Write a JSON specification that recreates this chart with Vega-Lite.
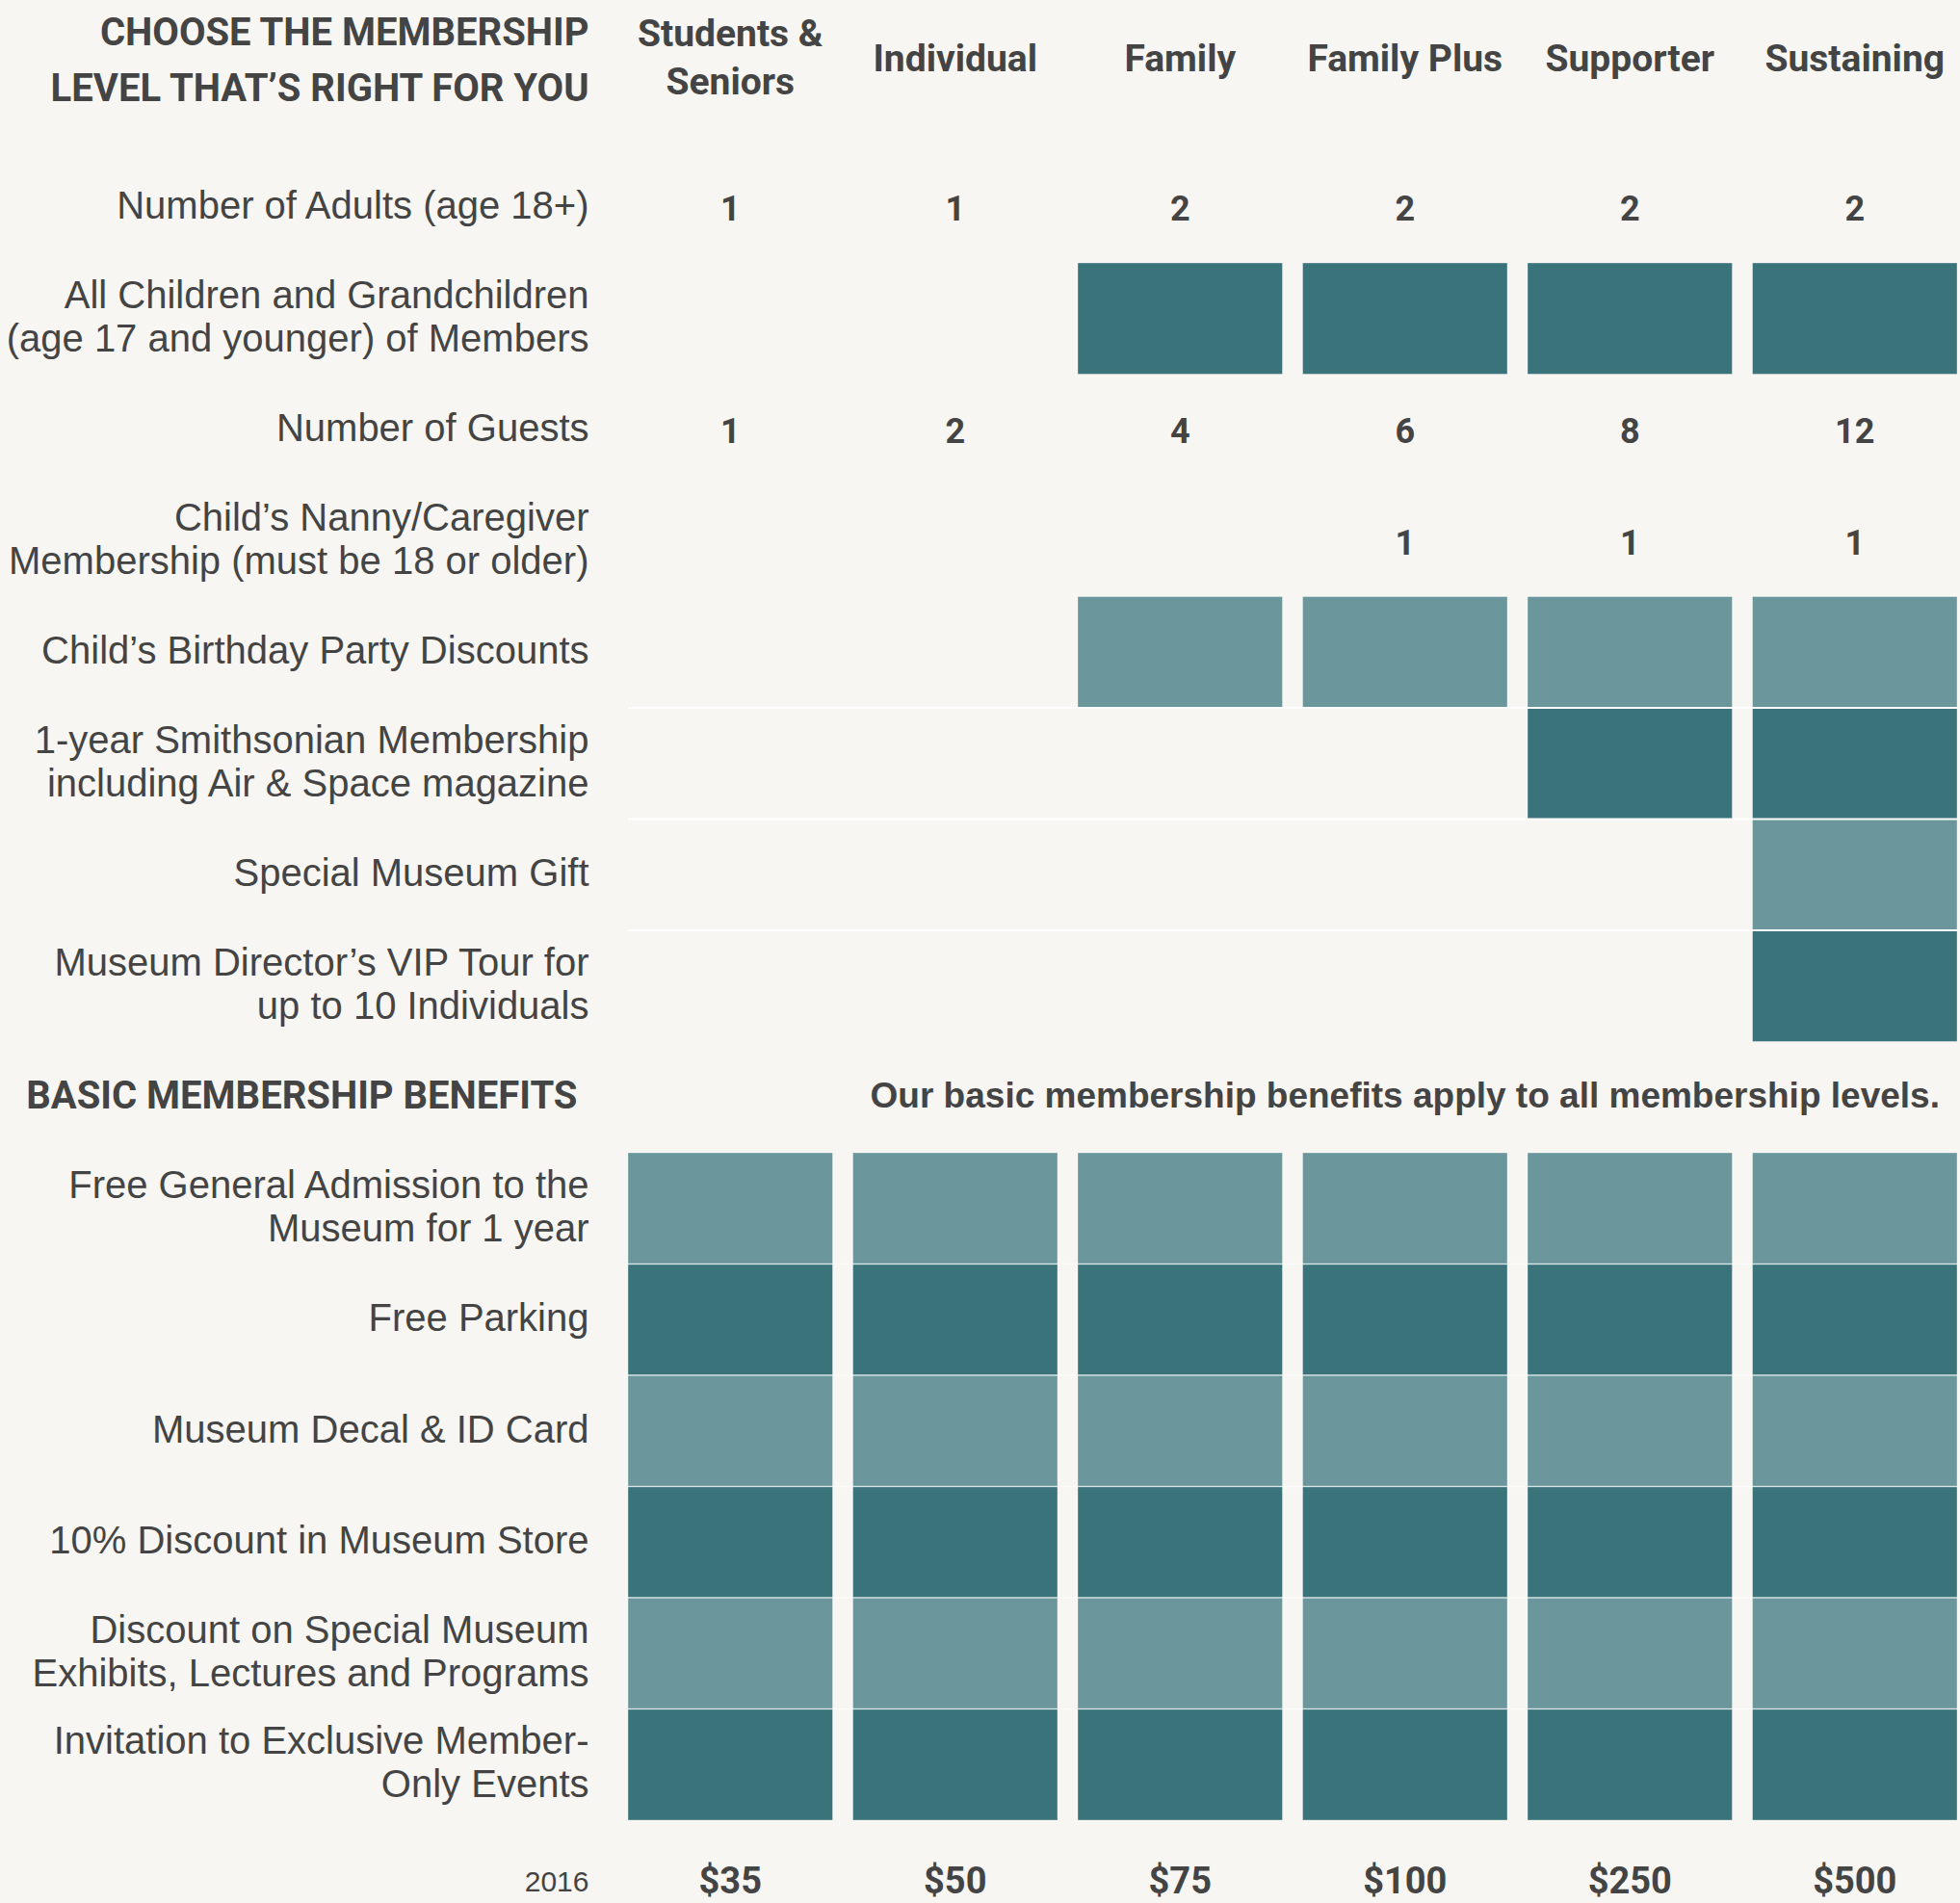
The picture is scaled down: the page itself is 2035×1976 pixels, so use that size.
{
  "$schema": "https://vega.github.io/schema/vega-lite/v6.json",
  "width": 1380,
  "height": 1848,
  "autosize": "none",
  "padding": {"left": 652, "top": 42, "right": 3, "bottom": 86},
  "background": "#f7f6f2",
  "config": {"view": {"stroke": null}},
  "datasets": {
    "cells": [
      {"feature": "All Children and Grandchildren|(age 17 and younger) of Members", "price": "$75", "shade": "dark"},
      {"feature": "All Children and Grandchildren|(age 17 and younger) of Members", "price": "$100", "shade": "dark"},
      {"feature": "All Children and Grandchildren|(age 17 and younger) of Members", "price": "$250", "shade": "dark"},
      {"feature": "All Children and Grandchildren|(age 17 and younger) of Members", "price": "$500", "shade": "dark"},
      {"feature": "Child’s Birthday Party Discounts", "price": "$75", "shade": "light"},
      {"feature": "Child’s Birthday Party Discounts", "price": "$100", "shade": "light"},
      {"feature": "Child’s Birthday Party Discounts", "price": "$250", "shade": "light"},
      {"feature": "Child’s Birthday Party Discounts", "price": "$500", "shade": "light"},
      {"feature": "1-year Smithsonian Membership|including Air & Space magazine", "price": "$250", "shade": "dark"},
      {"feature": "1-year Smithsonian Membership|including Air & Space magazine", "price": "$500", "shade": "dark"},
      {"feature": "Special Museum Gift", "price": "$500", "shade": "light"},
      {"feature": "Museum Director’s VIP Tour for|up to 10 Individuals", "price": "$500", "shade": "dark"},
      {"feature": "Free General Admission to the|Museum for 1 year", "price": "$35", "shade": "light"},
      {"feature": "Free General Admission to the|Museum for 1 year", "price": "$50", "shade": "light"},
      {"feature": "Free General Admission to the|Museum for 1 year", "price": "$75", "shade": "light"},
      {"feature": "Free General Admission to the|Museum for 1 year", "price": "$100", "shade": "light"},
      {"feature": "Free General Admission to the|Museum for 1 year", "price": "$250", "shade": "light"},
      {"feature": "Free General Admission to the|Museum for 1 year", "price": "$500", "shade": "light"},
      {"feature": "Free Parking", "price": "$35", "shade": "dark"},
      {"feature": "Free Parking", "price": "$50", "shade": "dark"},
      {"feature": "Free Parking", "price": "$75", "shade": "dark"},
      {"feature": "Free Parking", "price": "$100", "shade": "dark"},
      {"feature": "Free Parking", "price": "$250", "shade": "dark"},
      {"feature": "Free Parking", "price": "$500", "shade": "dark"},
      {"feature": "Museum Decal & ID Card", "price": "$35", "shade": "light"},
      {"feature": "Museum Decal & ID Card", "price": "$50", "shade": "light"},
      {"feature": "Museum Decal & ID Card", "price": "$75", "shade": "light"},
      {"feature": "Museum Decal & ID Card", "price": "$100", "shade": "light"},
      {"feature": "Museum Decal & ID Card", "price": "$250", "shade": "light"},
      {"feature": "Museum Decal & ID Card", "price": "$500", "shade": "light"},
      {"feature": "10% Discount in Museum Store", "price": "$35", "shade": "dark"},
      {"feature": "10% Discount in Museum Store", "price": "$50", "shade": "dark"},
      {"feature": "10% Discount in Museum Store", "price": "$75", "shade": "dark"},
      {"feature": "10% Discount in Museum Store", "price": "$100", "shade": "dark"},
      {"feature": "10% Discount in Museum Store", "price": "$250", "shade": "dark"},
      {"feature": "10% Discount in Museum Store", "price": "$500", "shade": "dark"},
      {"feature": "Discount on Special Museum|Exhibits, Lectures and Programs", "price": "$35", "shade": "light"},
      {"feature": "Discount on Special Museum|Exhibits, Lectures and Programs", "price": "$50", "shade": "light"},
      {"feature": "Discount on Special Museum|Exhibits, Lectures and Programs", "price": "$75", "shade": "light"},
      {"feature": "Discount on Special Museum|Exhibits, Lectures and Programs", "price": "$100", "shade": "light"},
      {"feature": "Discount on Special Museum|Exhibits, Lectures and Programs", "price": "$250", "shade": "light"},
      {"feature": "Discount on Special Museum|Exhibits, Lectures and Programs", "price": "$500", "shade": "light"},
      {"feature": "Invitation to Exclusive Member-|Only Events", "price": "$35", "shade": "dark"},
      {"feature": "Invitation to Exclusive Member-|Only Events", "price": "$50", "shade": "dark"},
      {"feature": "Invitation to Exclusive Member-|Only Events", "price": "$75", "shade": "dark"},
      {"feature": "Invitation to Exclusive Member-|Only Events", "price": "$100", "shade": "dark"},
      {"feature": "Invitation to Exclusive Member-|Only Events", "price": "$250", "shade": "dark"},
      {"feature": "Invitation to Exclusive Member-|Only Events", "price": "$500", "shade": "dark"}
    ],
    "numbers": [
      {"feature": "Number of Adults (age 18+)", "price": "$35", "value": "1"},
      {"feature": "Number of Adults (age 18+)", "price": "$50", "value": "1"},
      {"feature": "Number of Adults (age 18+)", "price": "$75", "value": "2"},
      {"feature": "Number of Adults (age 18+)", "price": "$100", "value": "2"},
      {"feature": "Number of Adults (age 18+)", "price": "$250", "value": "2"},
      {"feature": "Number of Adults (age 18+)", "price": "$500", "value": "2"},
      {"feature": "Number of Guests", "price": "$35", "value": "1"},
      {"feature": "Number of Guests", "price": "$50", "value": "2"},
      {"feature": "Number of Guests", "price": "$75", "value": "4"},
      {"feature": "Number of Guests", "price": "$100", "value": "6"},
      {"feature": "Number of Guests", "price": "$250", "value": "8"},
      {"feature": "Number of Guests", "price": "$500", "value": "12"},
      {"feature": "Child’s Nanny/Caregiver|Membership (must be 18 or older)", "price": "$100", "value": "1"},
      {"feature": "Child’s Nanny/Caregiver|Membership (must be 18 or older)", "price": "$250", "value": "1"},
      {"feature": "Child’s Nanny/Caregiver|Membership (must be 18 or older)", "price": "$500", "value": "1"}
    ],
    "levels": [
      {"feature": "hdr", "price": "$35", "level": "Students &|Seniors"},
      {"feature": "hdr", "price": "$50", "level": "Individual"},
      {"feature": "hdr", "price": "$75", "level": "Family"},
      {"feature": "hdr", "price": "$100", "level": "Family Plus"},
      {"feature": "hdr", "price": "$250", "level": "Supporter"},
      {"feature": "hdr", "price": "$500", "level": "Sustaining"}
    ],
    "note": [
      {"feature": "BASIC MEMBERSHIP BENEFITS", "price": "$100", "note": "Our basic membership benefits apply to all membership levels."}
    ],
    "linesTop": [
      {"feature": "1-year Smithsonian Membership|including Air & Space magazine"},
      {"feature": "Special Museum Gift"},
      {"feature": "Museum Director’s VIP Tour for|up to 10 Individuals"}
    ],
    "linesBasic": [
      {"feature": "Free Parking"},
      {"feature": "Museum Decal & ID Card"},
      {"feature": "10% Discount in Museum Store"},
      {"feature": "Discount on Special Museum|Exhibits, Lectures and Programs"},
      {"feature": "Invitation to Exclusive Member-|Only Events"}
    ]
  },
  "layer": [
    {
      "data": {"name": "cells"},
      "mark": {"type": "rect", "stroke": "#ffffff", "strokeOpacity": 0.35, "strokeWidth": 1},
      "encoding": {
        "y": {
          "field": "feature",
          "type": "nominal",
          "scale": {
            "domain": [
              "hdr",
              "Number of Adults (age 18+)",
              "All Children and Grandchildren|(age 17 and younger) of Members",
              "Number of Guests",
              "Child’s Nanny/Caregiver|Membership (must be 18 or older)",
              "Child’s Birthday Party Discounts",
              "1-year Smithsonian Membership|including Air & Space magazine",
              "Special Museum Gift",
              "Museum Director’s VIP Tour for|up to 10 Individuals",
              "BASIC MEMBERSHIP BENEFITS",
              "Free General Admission to the|Museum for 1 year",
              "Free Parking",
              "Museum Decal & ID Card",
              "10% Discount in Museum Store",
              "Discount on Special Museum|Exhibits, Lectures and Programs",
              "Invitation to Exclusive Member-|Only Events"
            ],
            "paddingInner": 0,
            "paddingOuter": 0
          },
          "axis": {
            "orient": "left",
            "title": ["CHOOSE THE MEMBERSHIP", "LEVEL THAT’S RIGHT FOR YOU"],
            "titleAngle": 0,
            "titleAlign": "right",
            "titleBaseline": "line-bottom",
            "titleX": -41,
            "titleY": 21,
            "titleFont": "Roboto",
            "titleFontSize": 40,
            "titleFontWeight": "bold",
            "titleColor": "#444444",
            "titleLineHeight": 58,
            "ticks": false,
            "domain": false,
            "grid": false,
            "labelExpr": "datum.value === 'hdr' ? '' : split(datum.value, '|')",
            "labelAlign": "right",
            "labelBaseline": {"condition": {"test": "indexof(datum.value, '|') >= 0", "value": "line-bottom"}, "value": "middle"},
            "labelLimit": 900,
            "labelLineHeight": 45,
            "labelColor": "#444444",
            "labelPadding": {"condition": {"test": "datum.value === 'BASIC MEMBERSHIP BENEFITS'", "value": 53}, "value": 41},
            "labelFont": {"condition": {"test": "datum.value === 'BASIC MEMBERSHIP BENEFITS'", "value": "Roboto"}, "value": "Liberation Sans"},
            "labelFontSize": {"condition": {"test": "datum.value === 'BASIC MEMBERSHIP BENEFITS'", "value": 40}, "value": 40},
            "labelFontWeight": {"condition": {"test": "datum.value === 'BASIC MEMBERSHIP BENEFITS'", "value": "bold"}, "value": "normal"}
          }
        },
        "x": {
          "field": "price",
          "type": "nominal",
          "scale": {"domain": ["$35", "$50", "$75", "$100", "$250", "$500"], "paddingInner": 0.09, "paddingOuter": 0},
          "axis": {
            "orient": "bottom",
            "title": "2016",
            "titleX": -41,
            "titleY": 64,
            "titleAngle": 0,
            "titleAlign": "right",
            "titleBaseline": "middle",
            "titleFont": "Liberation Sans",
            "titleFontSize": 30,
            "titleFontWeight": "normal",
            "titleColor": "#444444",
            "ticks": false,
            "domain": false,
            "grid": false,
            "labelAngle": 0,
            "labelPadding": 64,
            "labelBaseline": "middle",
            "labelFont": "Roboto",
            "labelFontSize": 38,
            "labelFontWeight": "bold",
            "labelColor": "#444444"
          }
        },
        "color": {
          "field": "shade",
          "type": "nominal",
          "scale": {"domain": ["dark", "light"], "range": ["#3a737a", "#6b969b"]},
          "legend": null
        }
      }
    },
    {
      "data": {"name": "linesTop"},
      "mark": {"type": "rule", "color": "#ffffff", "strokeWidth": 2},
      "encoding": {
        "y": {"field": "feature", "type": "nominal", "bandPosition": 0}
      }
    },
    {
      "data": {"name": "linesBasic"},
      "mark": {"type": "rule", "color": "#ffffff", "strokeWidth": 1.5, "opacity": 0.55},
      "encoding": {
        "y": {"field": "feature", "type": "nominal", "bandPosition": 0}
      }
    },
    {
      "data": {"name": "numbers"},
      "mark": {"type": "text", "font": "Roboto", "fontSize": 36, "fontWeight": "bold", "color": "#444444", "align": "center", "baseline": "middle", "dy": 3},
      "encoding": {
        "y": {"field": "feature", "type": "nominal"},
        "x": {"field": "price", "type": "nominal"},
        "text": {"field": "value"}
      }
    },
    {
      "data": {"name": "levels"},
      "transform": [{"filter": "indexof(datum.level, '|') < 0"}],
      "mark": {"type": "text", "font": "Roboto", "fontSize": 39, "fontWeight": "bold", "color": "#444444", "align": "center", "baseline": "middle", "dy": -38},
      "encoding": {
        "y": {"field": "feature", "type": "nominal"},
        "x": {"field": "price", "type": "nominal"},
        "text": {"field": "level"}
      }
    },
    {
      "data": {"name": "levels"},
      "transform": [{"filter": "indexof(datum.level, '|') >= 0"}],
      "mark": {"type": "text", "font": "Roboto", "fontSize": 39, "fontWeight": "bold", "color": "#444444", "align": "center", "baseline": "line-bottom", "lineBreak": "|", "lineHeight": 50, "dy": -38},
      "encoding": {
        "y": {"field": "feature", "type": "nominal"},
        "x": {"field": "price", "type": "nominal"},
        "text": {"field": "level"}
      }
    },
    {
      "data": {"name": "note"},
      "mark": {"type": "text", "font": "Liberation Sans", "fontSize": 37, "fontWeight": "bold", "color": "#444444", "align": "center", "baseline": "middle"},
      "encoding": {
        "y": {"field": "feature", "type": "nominal"},
        "x": {"field": "price", "type": "nominal"},
        "text": {"field": "note"}
      }
    }
  ]
}
